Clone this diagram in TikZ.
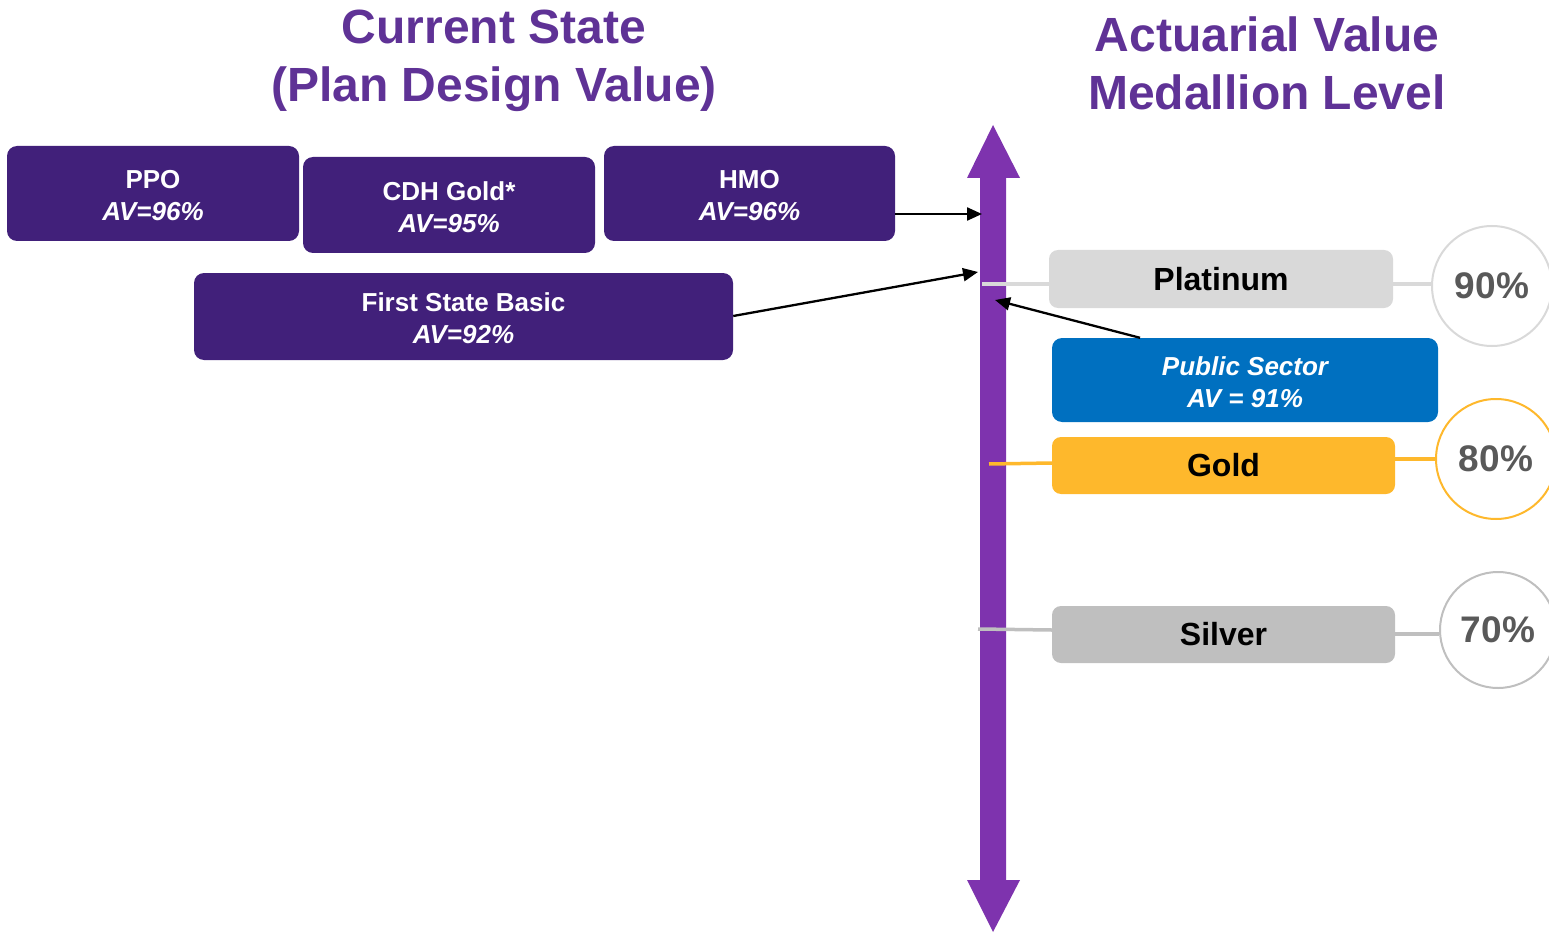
\documentclass[tikz,border=0pt]{standalone}
\usepackage{fontspec}
\setmainfont{Liberation Sans}
\usetikzlibrary{arrows.meta}
\definecolor{titlepurple}{RGB}{95,50,150}
\definecolor{boxpurple}{RGB}{65,32,122}
\definecolor{axispurple}{RGB}{126,51,174}
\definecolor{platgray}{RGB}{217,217,217}
\definecolor{silvgray}{RGB}{191,191,191}
\definecolor{goldy}{RGB}{254,184,44}
\definecolor{psblue}{RGB}{0,112,192}
\definecolor{pcttext}{RGB}{89,89,89}
\tikzset{
  planbox/.style={draw=none, fill=boxpurple, rounded corners=10pt, inner sep=0pt, text=white, align=center, font=\fontsize{26}{32}\selectfont\bfseries},
  medbox/.style={draw=none, rounded corners=9pt, inner sep=0pt, text=black, align=center, font=\fontsize{32}{38}\selectfont\bfseries},
  pctcircle/.style={circle, draw, line width=2pt, fill=white, inner sep=0pt, text=pcttext, font=\fontsize{37}{44}\selectfont\bfseries},
  titletext/.style={text=titlepurple, align=center, font=\fontsize{48}{58}\selectfont\bfseries},
  link/.style={black, line width=2.3pt, -{Triangle[length=15pt,width=13pt]}},
}
\begin{document}
\begin{tikzpicture}[x=1pt,y=-1pt]
\useasboundingbox (0,0) rectangle (1549,933);

% titles
\node[titletext] (t1) at (494,61) {Current State\\(Plan Design Value)};
\node[titletext] (t2) at (1267,63) {Actuarial Value\\Medallion Level};

% vertical double arrow (axis)
\fill[axispurple] (993,125) -- (1020,178) -- (1006,178) -- (1006,880) -- (1020,880)
  -- (993,932) -- (967,880) -- (980,880) -- (980,178) -- (967,178) -- cycle;
\coordinate (hmoend) at (982,214);
\coordinate (fsbend) at (978,272);
\coordinate (psend) at (995,300);
\coordinate (platax) at (982,284);
\coordinate (goldax) at (989,464);
\coordinate (silvax) at (978,629);

% plan boxes
\node[planbox, minimum width=292pt, minimum height=95pt] (ppo) at (153,193.5) {\strut PPO\\\itshape AV=96\%};
\node[planbox, minimum width=292pt, minimum height=96pt] (cdh) at (449,205) {\strut CDH Gold*\\\itshape AV=95\%};
\node[planbox, minimum width=291pt, minimum height=95pt] (hmo) at (749.5,193.5) {\strut HMO\\\itshape AV=96\%};
\node[planbox, minimum width=539pt, minimum height=87pt] (fsb) at (463.5,316.5) {\strut First State Basic\\\itshape AV=92\%};

% medallion boxes
\node[medbox, fill=platgray, minimum width=344pt, minimum height=58pt] (plat) at (1221,279) {Platinum};
\node[medbox, fill=psblue, text=white, minimum width=386pt, minimum height=84pt, rounded corners=10pt, font=\fontsize{26}{32}\selectfont\bfseries\itshape] (ps) at (1245,380) {\strut Public Sector\\AV = 91\%};
\node[medbox, fill=goldy, minimum width=343pt, minimum height=57pt] (gold) at (1223.5,465.5) {Gold};
\node[medbox, fill=silvgray, minimum width=343pt, minimum height=57pt] (silv) at (1223.5,634.5) {Silver};

% circles
\node[pctcircle, draw=platgray, minimum size=120pt] (c90) at (1492,286) {90\%};
\node[pctcircle, draw=goldy, minimum size=120pt] (c80) at (1496,459) {80\%};
\node[pctcircle, draw=silvgray, minimum size=116pt] (c70) at (1498,630) {70\%};

% tie lines
\draw[platgray, line width=4pt] (platax) -- (plat.west |- platax);
\draw[platgray, line width=4pt] (plat.east |- 0,284) -- (c90.west |- 0,284);
\draw[goldy, line width=3.5pt] (goldax) -- (gold.west |- 0,463);
\draw[goldy, line width=3.5pt] (gold.east |- 0,459) -- (c80.west);
\draw[silvgray, line width=3.5pt] (silvax) -- (silv.west |- 0,630);
\draw[silvgray, line width=3.5pt] (silv.east |- 0,634) -- (c70.west |- 0,634);

% connectors
\draw[link] (hmo.east |- hmoend) -- (hmoend);
\draw[link] (fsb.east |- 0,316) -- (fsbend);
\draw[link] (ps.north -| 1140,0) -- (psend);
\end{tikzpicture}
\end{document}
